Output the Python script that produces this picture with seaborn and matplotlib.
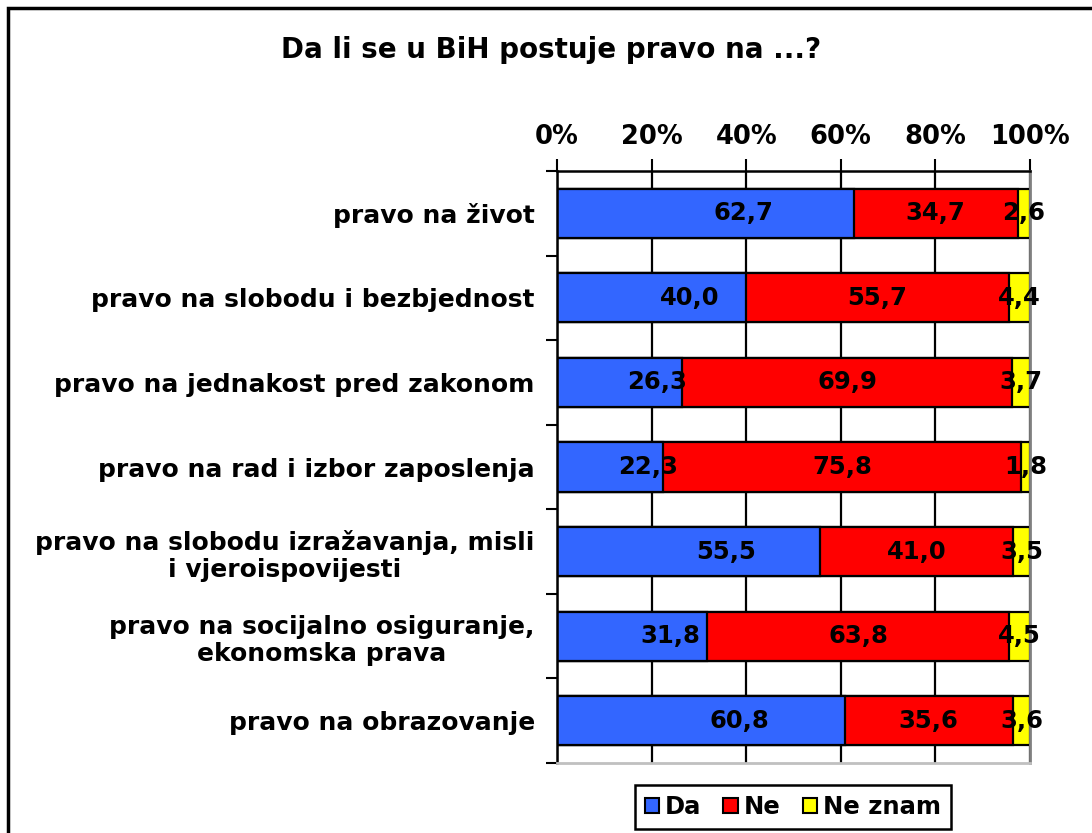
import matplotlib

matplotlib.use("Agg")

import matplotlib.pyplot as plt
import numpy as np
import pandas as pd
import seaborn as sns
from matplotlib.patches import Patch, Rectangle

CATEGORIES = [
    "pravo na život",
    "pravo na slobodu i bezbjednost",
    "pravo na jednakost pred zakonom",
    "pravo na rad i izbor zaposlenja",
    "pravo na slobodu izražavanja, misli\ni vjeroispovijesti",
    "pravo na socijalno osiguranje,\nekonomska prava",
    "pravo na obrazovanje",
]
DA = [62.7, 40.0, 26.3, 22.3, 55.5, 31.8, 60.8]
NE = [34.7, 55.7, 69.9, 75.8, 41.0, 63.8, 35.6]
NE_ZNAM = [2.6, 4.4, 3.7, 1.8, 3.5, 4.5, 3.6]
SERIES = ["Da", "Ne", "Ne znam"]
COLORS = ["#3366FF", "#FF0000", "#FFFF00"]
X_TICKS = [0, 20, 40, 60, 80, 100]
X_TICK_LABELS = ["0%", "20%", "40%", "60%", "80%", "100%"]
TITLE = "Da li se u BiH postuje pravo na ...?"

# the "Da" labels sit a bit right of the segment centre in the original
LABEL_SHIFT = {"Da": 27.5, "Ne": 0.0, "Ne znam": 0.0}


def build_frame() -> pd.DataFrame:
    raw = pd.DataFrame({"kategorija": CATEGORIES, "Da": DA, "Ne": NE, "Ne znam": NE_ZNAM})
    total = raw[SERIES].sum(axis=1)
    for name in SERIES:
        raw[name + "_pct"] = raw[name] / total * 100
    cum = raw[[s + "_pct" for s in SERIES]].cumsum(axis=1)
    for name, col in zip(SERIES, cum.columns):
        raw[name + "_right"] = cum[col]
    return raw


def main() -> None:
    sns.set_theme(style="white")
    plt.rcParams["font.family"] = ["DejaVu Sans"]
    plt.rcParams["font.weight"] = "bold"
    plt.rcParams["text.color"] = "black"
    plt.rcParams["xtick.labelcolor"] = "black"
    plt.rcParams["ytick.labelcolor"] = "black"

    data = build_frame()
    fig = plt.figure(figsize=(10.92, 8.33), dpi=100)
    ax = fig.add_axes([557 / 1092, 1 - 763 / 833, (1030 - 557) / 1092, (763 - 171) / 833])

    # stacked bars: draw cumulative totals from the back to the front
    for name, color in reversed(list(zip(SERIES, COLORS))):
        sns.barplot(
            data=data, x=name + "_right", y="kategorija", orient="h",
            color=color, saturation=1, edgecolor="black", linewidth=1.6,
            width=0.58, errorbar=None, ax=ax,
        )

    for i, row in data.iterrows():
        left = 0.0
        for name in SERIES:
            pct = row[name + "_pct"]
            ax.annotate(f"{row[name]:.1f}".replace(".", ","), (left + pct / 2, i),
                        xytext=(LABEL_SHIFT[name], 0), textcoords="offset points",
                        ha="center", va="center", fontsize=17.5, fontweight="bold", color="black")
            left += pct

    ax.set_xlim(0, 100)
    ax.set_ylim(len(CATEGORIES) - 0.5, -0.5)
    ax.set_xlabel("")
    ax.set_ylabel("")

    ax.xaxis.tick_top()
    ax.set_xticks(X_TICKS)
    ax.set_xticklabels(X_TICK_LABELS, fontsize=18.5, fontweight="bold")
    ax.tick_params(axis="x", direction="out", length=9, width=1.5, color="black", pad=6, top=True, bottom=False)

    ax.set_yticks(np.arange(len(CATEGORIES)))
    ax.set_yticklabels(CATEGORIES, fontsize=18, fontweight="bold", multialignment="center")
    ax.set_yticks(np.arange(-0.5, len(CATEGORIES), 1), minor=True)
    ax.tick_params(axis="y", which="major", length=0, pad=16)
    ax.tick_params(axis="y", which="minor", direction="out", length=8, width=1.5, color="black", left=True)

    ax.grid(axis="x", color="black", linewidth=1.6)
    ax.grid(axis="y", visible=False)
    ax.set_axisbelow(True)

    ax.spines["top"].set_color("black")
    ax.spines["top"].set_linewidth(1.8)
    ax.spines["left"].set_color("black")
    ax.spines["left"].set_linewidth(1.8)
    ax.spines["right"].set_color("#808080")
    ax.spines["right"].set_linewidth(2)
    ax.spines["bottom"].set_color("#c0c0c0")
    ax.spines["bottom"].set_linewidth(2)

    fig.text(551 / 1092, 1 - 50 / 833, TITLE, ha="center", va="center", fontsize=20, fontweight="bold")

    handles = [Patch(facecolor=c, edgecolor="black", linewidth=1.5) for c in COLORS]
    leg = fig.legend(
        handles, SERIES, loc="center", bbox_to_anchor=(793 / 1092, 1 - 807 / 833), ncol=3,
        frameon=True, fancybox=False, edgecolor="black", framealpha=1,
        handlelength=0.6, handleheight=0.6, handletextpad=0.25, columnspacing=0.9,
        borderpad=0.4, prop={"size": 17.5, "weight": "bold"},
    )
    leg.get_frame().set_linewidth(1.8)

    fig.add_artist(Rectangle((8 / 1092, -0.05), 1.0, 1.05 - 8 / 833, transform=fig.transFigure,
                             fill=False, edgecolor="black", linewidth=2.5))

    fig.savefig("out.png", dpi=100)
    plt.close(fig)


if __name__ == "__main__":
    main()
